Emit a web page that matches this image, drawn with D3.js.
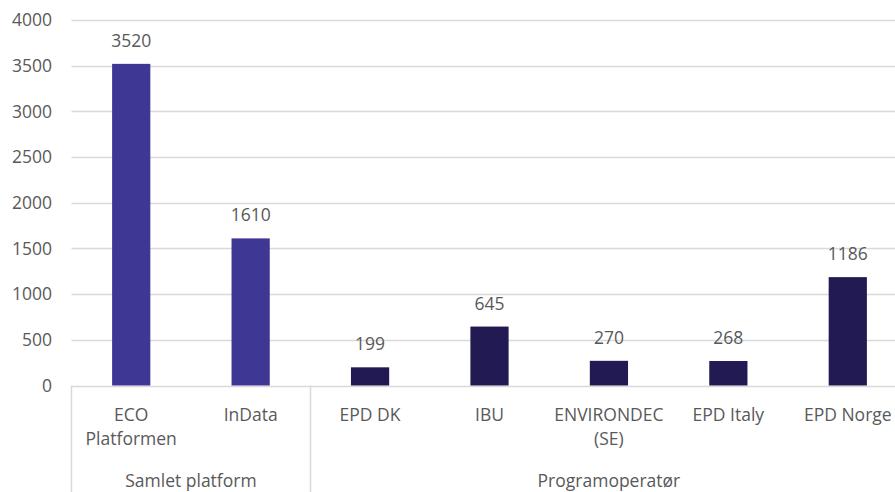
<!DOCTYPE html>
<html lang="no">
<head>
  <meta charset="UTF-8">
  <title>EPD</title>
  <style>
    body { margin: 0; background: #fff; }
    text { font-family: "Open Sans", sans-serif; fill: #595959; }
  </style>
</head>
<body>
  <script src="https://d3js.org/d3.v7.min.js"></script>
  <script>

    const categories = ['ECO Platformen', 'InData', 'EPD DK', 'IBU', 'ENVIRONDEC (SE)', 'EPD Italy', 'EPD Norge']
    const catLines = [['ECO', 'Platformen'], ['InData'], ['EPD DK'], ['IBU'], ['ENVIRONDEC', '(SE)'], ['EPD Italy'], ['EPD Norge']]
    const values = [3520, 1610, 199, 645, 270, 268, 1186]
    const groupNames = ['Samlet platform', 'Programoperatør']
    const groupSizes = [2, 5]
    const groupColors = ['#3e3794', '#221b53']
    const yTicks = [0, 500, 1000, 1500, 2000, 2500, 3000, 3500, 4000]

    const width = 895, height = 492
    const plotLeft = 71.5, plotRight = 907.5, plotTop = 20, plotBottom = 385.5
    const fs = 17.5

    const svg = d3.select('body')
      .append('svg')
      .attr('width', width)
      .attr('height', height)

    const x = d3.scaleBand()
      .domain(categories)
      .range([plotLeft, plotRight])
      .paddingInner(0.68)
      .paddingOuter(0.34)

    const y = d3.scaleLinear()
      .domain([0, 4000])
      .range([plotBottom, plotTop])

    // group index of each category
    const groupOf = []
    groupSizes.forEach((n, g) => { for (let i = 0; i < n; i++) groupOf.push(g) })

    // gridlines
    svg.append('g')
      .selectAll('line')
      .data(yTicks)
      .join('line')
      .attr('x1', plotLeft)
      .attr('x2', plotRight)
      .attr('y1', d => Math.round(y(d)) + 0.5)
      .attr('y2', d => Math.round(y(d)) + 0.5)
      .attr('stroke', '#d9d9d9')
      .attr('stroke-width', 1.5)

    svg.append('g')
      .selectAll('text')
      .data(yTicks)
      .join('text')
      .attr('x', 52)
      .attr('y', d => y(d))
      .attr('dy', '0.35em')
      .attr('text-anchor', 'end')
      .attr('font-size', fs)
      .text(d => d)

    // bars
    svg.append('g')
      .selectAll('rect')
      .data(values)
      .join('rect')
      .attr('x', (d, i) => x(categories[i]))
      .attr('width', x.bandwidth())
      .attr('y', d => y(d))
      .attr('height', d => plotBottom - y(d))
      .attr('fill', (d, i) => groupColors[groupOf[i]])

    svg.append('g')
      .selectAll('text')
      .data(values)
      .join('text')
      .attr('x', (d, i) => x(categories[i]) + x.bandwidth() / 2)
      .attr('y', d => y(d) - 17)
      .attr('text-anchor', 'middle')
      .attr('font-size', fs)
      .text(d => d)

    // category labels
    const step = x.step()
    svg.append('g')
      .selectAll('text')
      .data(catLines)
      .join('text')
      .attr('x', (d, i) => x(categories[i]) + x.bandwidth() / 2)
      .attr('y', 421)
      .attr('text-anchor', 'middle')
      .attr('font-size', fs)
      .selectAll('tspan')
      .data(d => d)
      .join('tspan')
      .attr('x', function () { return this.parentNode.getAttribute('x') })
      .attr('dy', (d, j) => j === 0 ? 0 : 24)
      .text(d => d)

    // group labels and separators
    let start = 0
    const groups = groupNames.map((name, g) => {
      const x0 = x(categories[start]) - x.paddingOuter() * step
      start += groupSizes[g]
      const x1 = x(categories[start - 1]) + x.bandwidth() + x.paddingOuter() * step
      return { name, x0, x1 }
    })

    svg.append('g')
      .selectAll('line')
      .data(groups)
      .join('line')
      .attr('x1', d => Math.round(d.x0) + 0.5)
      .attr('x2', d => Math.round(d.x0) + 0.5)
      .attr('y1', plotBottom)
      .attr('y2', height)
      .attr('stroke', '#d9d9d9')
      .attr('stroke-width', 1.5)

    svg.append('g')
      .selectAll('text')
      .data(groups)
      .join('text')
      .attr('x', d => (d.x0 + d.x1) / 2)
      .attr('y', 487)
      .attr('text-anchor', 'middle')
      .attr('font-size', fs)
      .text(d => d.name)

  </script>
</body>
</html>
